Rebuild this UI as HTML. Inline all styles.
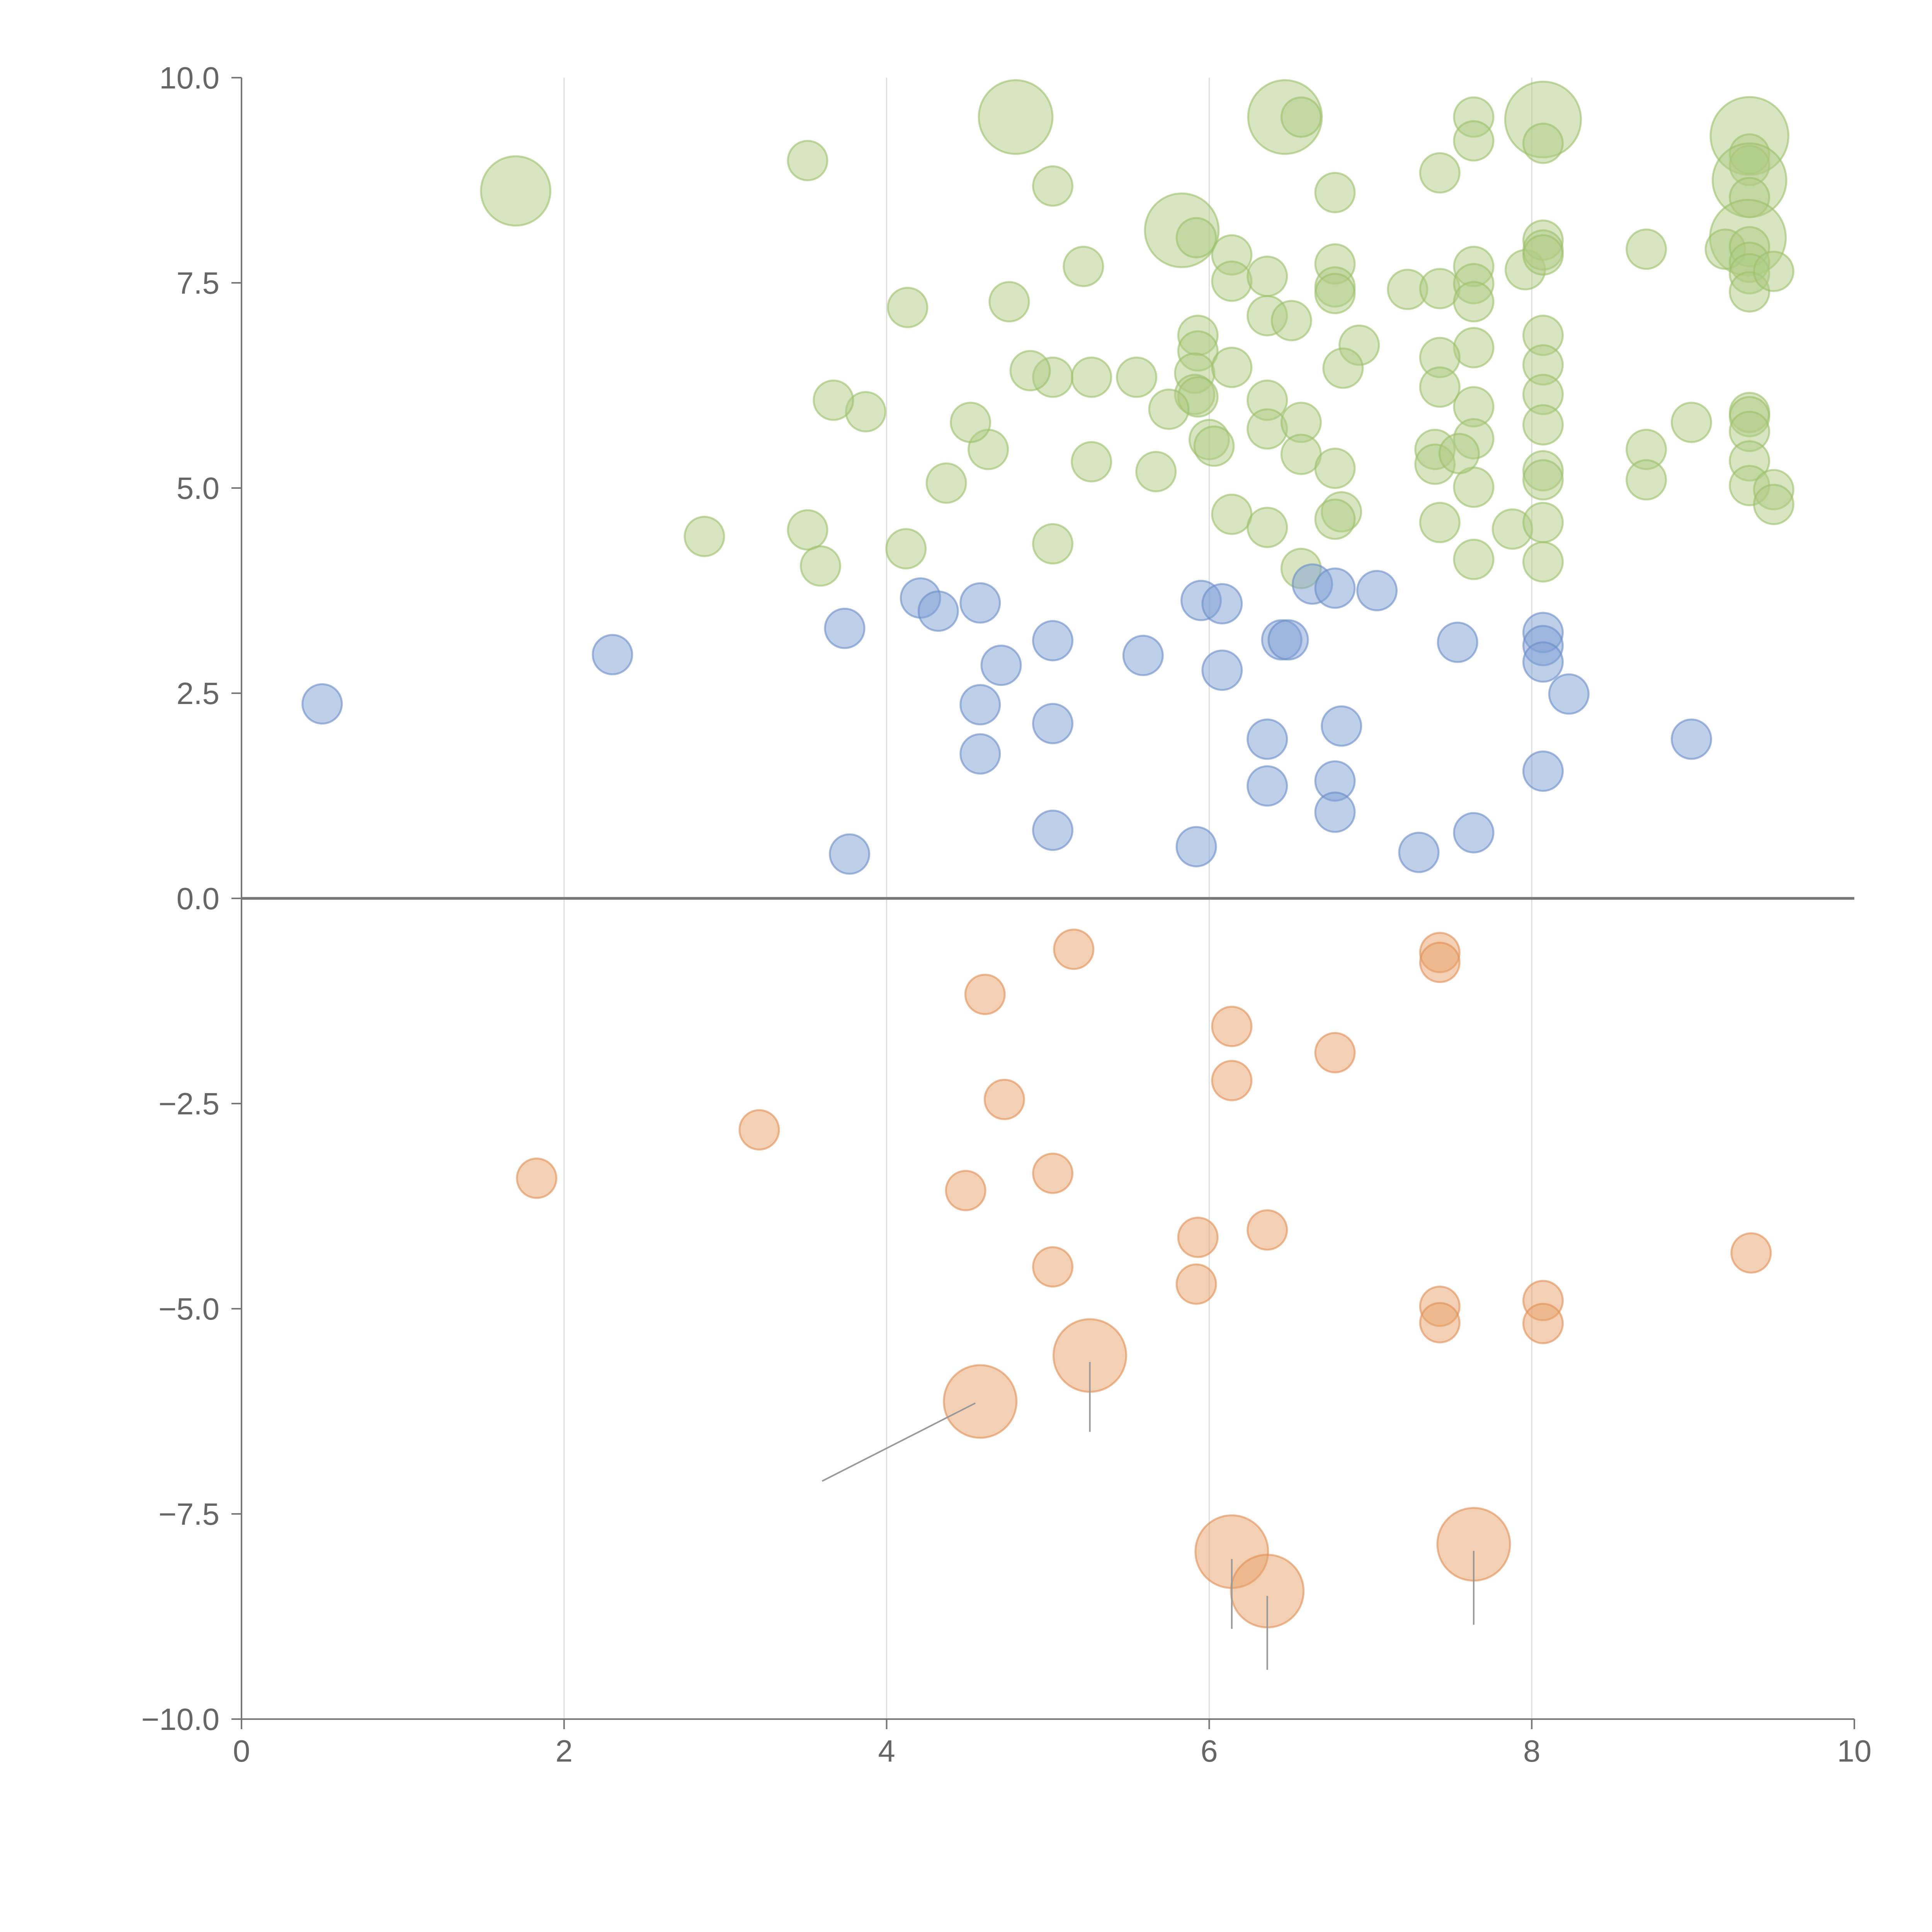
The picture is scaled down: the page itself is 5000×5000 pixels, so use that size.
<!DOCTYPE html>
<html><head><meta charset="utf-8"><style>html,body{margin:0;padding:0;background:#fff}svg{display:block}</style></head>
<body>
<svg id="chart" width="5000" height="5000" viewBox="0 0 5000 5000" xmlns="http://www.w3.org/2000/svg" font-family="Liberation Sans, sans-serif"></svg>
<script>
const xTicks=[0,2,4,6,8,10];
const yTicks=[10,7.5,5,2.5,0,-2.5,-5,-7.5,-10];
const yTickLabels=["10.0","7.5","5.0","2.5","0.0","\u22122.5","\u22125.0","\u22127.5","\u221210.0"];
const blueX=[0.5,2.3,3.74,3.77,4.21,4.32,4.58,4.58,4.58,4.71,5.03,5.03,5.03,5.59,5.95,6.08,6.08,5.92,6.36,6.36,6.45,6.49,6.64,6.78,7.04,6.82,6.78,6.78,7.3,7.54,7.64,8.07,8.07,8.07,8.23,8.07,8.99];
const blueY=[2.37,2.97,3.29,0.54,3.66,3.5,3.6,2.36,1.76,2.84,3.14,2.13,0.83,2.96,3.63,3.59,2.78,0.63,1.94,1.37,3.15,3.15,3.83,3.78,3.75,2.1,1.43,1.05,0.56,3.12,0.8,3.24,3.08,2.88,2.49,1.55,1.94];
const orangeX=[1.83,3.21,4.61,4.73,4.49,5.16,5.03,5.03,5.93,5.92,6.14,6.14,6.36,6.78,7.43,7.43,7.43,7.43,8.07,8.07,9.36,4.58,5.26,6.14,6.36,7.64];
const orangeY=[-3.41,-2.82,-1.17,-2.45,-3.56,-0.62,-3.35,-4.49,-4.13,-4.7,-1.56,-2.22,-4.04,-1.88,-0.66,-0.78,-4.97,-5.17,-4.9,-5.18,-4.32,-6.13,-5.57,-7.96,-8.44,-7.87];
const orangeSize=[1,1,1,1,1,1,1,1,1,1,1,1,1,1,1,1,1,1,1,1,1,3.4,3.4,3.4,3.4,3.4];
const greenX=[1.7,3.51,4.8,5.03,5.22,4.13,4.76,5.83,5.92,6.47,6.57,6.78,6.14,6.14,6.36,6.36,6.51,6.78,6.78,6.78,6.93,6.83,7.23,7.43,7.43,7.64,7.64,8.07,8.07,7.64,7.64,7.64,7.64,7.64,7.64,7.64,7.64,7.43,7.43,7.4,7.4,7.55,7.43,7.88,7.96,8.07,8.07,8.07,8.07,8.07,8.07,8.07,8.07,8.07,8.07,8.07,8.71,8.71,8.71,8.99,9.35,9.35,9.35,9.35,9.35,9.34,9.2,9.35,9.35,9.35,9.35,9.5,9.35,9.35,9.35,9.35,9.35,9.5,9.5,5.93,5.93,5.91,5.91,5.93,6.0,6.03,6.14,5.75,5.55,5.27,5.03,4.89,6.36,6.36,6.57,6.57,6.78,6.82,6.78,6.14,6.36,6.57,5.67,5.27,4.63,4.52,4.37,3.87,3.67,5.03,4.12,3.51,3.59,2.87];
const greenY=[8.62,8.99,9.52,8.68,7.7,7.2,7.27,8.14,8.05,9.52,9.52,8.6,7.84,7.52,7.58,7.1,7.04,7.73,7.45,7.37,6.74,6.46,7.42,8.84,7.43,9.52,9.23,9.49,9.2,7.7,7.49,7.27,6.71,5.99,5.6,5.01,4.13,6.59,6.23,5.47,5.29,5.42,4.58,4.5,7.66,8.02,7.9,7.84,6.86,6.5,6.14,5.77,5.21,5.1,4.58,4.1,7.91,5.47,5.1,5.8,9.29,9.07,8.93,8.75,8.54,8.05,7.91,7.94,7.75,7.61,7.39,7.64,5.92,5.87,5.69,5.33,5.03,4.98,4.8,6.86,6.67,6.4,6.14,6.11,5.59,5.51,6.47,5.96,6.35,6.35,6.35,6.43,6.07,5.72,5.8,5.41,5.24,4.71,4.62,4.68,4.52,4.02,5.2,5.32,5.47,5.8,5.06,5.93,6.07,4.32,4.26,4.49,4.05,4.41];
const greenBig={0:3.1,2:3.5,7:3.5,9:3.5,27:3.7,60:3.9,63:3.5,65:3.7};

const NS="http://www.w3.org/2000/svg";
const svg=document.getElementById('chart');
const X0=625,X1=4799,Y0=4449,Y1=201;
const sx=v=>X0+(v-0)/(10-0)*(X1-X0);
const sy=v=>Y0-(v+10)/20*(Y0-Y1);
const R=51;
function mk(tag,attrs,parent){const e=document.createElementNS(NS,tag);for(const k in attrs)e.setAttribute(k,attrs[k]);(parent||svg).appendChild(e);return e;}

xTicks.slice(1,-1).forEach(t=>{
  const l=mk('line',{x1:sx(t),x2:sx(t),y1:Y1,y2:Y0,stroke:'#dddddd','stroke-width':3});
  
  
});
const ya=mk('line',{x1:X0,x2:X0,y1:Y1,y2:Y0,stroke:'#777','stroke-width':4});


const xa=mk('line',{x1:X0,x2:X1,y1:Y0,y2:Y0,stroke:'#777','stroke-width':4});


xTicks.forEach(t=>{
  const l=mk('line',{x1:sx(t),x2:sx(t),y1:Y0,y2:Y0+26,stroke:'#777','stroke-width':4});
  
  
  const tx=mk('text',{x:sx(t),y:Y0+110,'text-anchor':'middle','font-size':80,fill:'#666'});
  tx.textContent=String(t);
  
  
});
yTicks.forEach((t,i)=>{
  const l=mk('line',{x1:X0-26,x2:X0,y1:sy(t),y2:sy(t),stroke:'#777','stroke-width':4});
  
  
  const tx=mk('text',{x:X0-57,y:sy(t)+28,'text-anchor':'end','font-size':80,fill:'#666'});
  tx.textContent=yTickLabels[i];
  
  
});
const z=mk('line',{x1:X0,x2:X1,y1:sy(0),y2:sy(0),stroke:'#777','stroke-width':7});



function bubble(x,y,s,fill,stroke,name){
  const c=mk('circle',{cx:sx(x),cy:sy(y),r:R*Math.sqrt(s),fill:fill,'fill-opacity':0.5,stroke:stroke,'stroke-opacity':0.6,'stroke-width':5});
  
  
}
greenX.forEach((x,i)=>bubble(x,greenY[i],greenBig[i]||1,'#b0cb84','#9cbf6a','green-bubble'));
blueX.forEach((x,i)=>bubble(x,blueY[i],1,'#7e9fd3','#6a8cc6','blue-bubble'));
orangeX.forEach((x,i)=>bubble(x,orangeY[i],orangeSize[i],'#e8a16a','#df9055','orange-bubble'));

const leaders=[[4.55,-6.15,3.6,-7.1],[5.26,-5.65,5.26,-6.5],[6.14,-8.05,6.14,-8.9],[6.36,-8.5,6.36,-9.4],[7.64,-7.95,7.64,-8.85]];
leaders.forEach(a=>{
  const l=mk('line',{x1:sx(a[0]),y1:sy(a[1]),x2:sx(a[2]),y2:sy(a[3]),stroke:'#999','stroke-width':4});
  
  
});
</script>
</body></html>
